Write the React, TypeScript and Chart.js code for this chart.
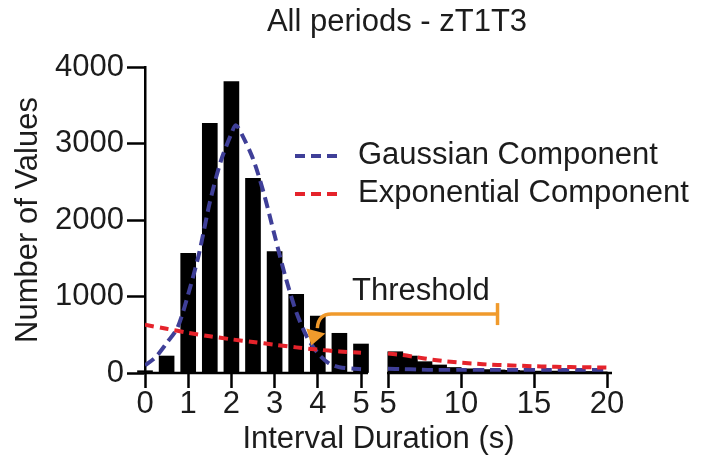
import React, { useEffect, useRef } from 'react';
import { Chart, registerables } from 'chart.js';

Chart.register(...registerables);

// ---------- text ----------
const TITLE = 'All periods - zT1T3';
const X_TITLE = 'Interval Duration (s)';
const Y_TITLE = 'Number of Values';
const LEGEND_LABELS = ['Gaussian Component', 'Exponential Component'];
const THRESHOLD_LABEL = 'Threshold';

// ---------- data: histogram (left part: 0.5 s bins, right part: 1 s bins) ----------
const LEFT_BIN_CENTERS = [0, 0.5, 1, 1.5, 2, 2.5, 3, 3.5, 4, 4.5, 5];
const LEFT_COUNTS = [30, 222, 1565, 3264, 3808, 2545, 1586, 1028, 745, 519, 379];
const RIGHT_BIN_CENTERS = [5.5, 6.5, 7.5, 8.5, 9.5, 10.5, 11.5, 12.5, 13.5, 14.5, 15.5, 16.5, 17.5, 18.5, 19.5];
const RIGHT_COUNTS = [278, 222, 148, 105, 72, 55, 45, 40, 35, 30, 25, 25, 20, 20, 15];

// ---------- data: fitted components ----------
const GAUSS_LEFT_X = [0, 0.25, 0.5, 0.75, 1, 1.25, 1.5, 1.75, 2, 2.1, 2.25, 2.5, 2.75, 3, 3.25, 3.5, 3.75, 4, 4.25, 4.5, 5];
const GAUSS_LEFT_Y = [100, 210, 390, 590, 1030, 1560, 2230, 2760, 3130, 3240, 3110, 2800, 2350, 1800, 1260, 800, 470, 260, 130, 75, 50];
const GAUSS_RIGHT_X = [5, 6, 7, 8, 10, 12, 14, 16, 18, 20];
const GAUSS_RIGHT_Y = [55, 50, 45, 40, 40, 40, 40, 40, 40, 40];
const EXP_LEFT_X = [0, 0.5, 1, 1.5, 2, 2.5, 3, 3.5, 4, 4.5, 5];
const EXP_LEFT_Y = [630, 578, 525, 480, 440, 405, 370, 335, 305, 282, 265];
const EXP_RIGHT_X = [5, 6, 7, 8, 9, 10, 11, 12, 13, 14, 15, 16, 17, 18, 19, 20];
const EXP_RIGHT_Y = [255, 235, 205, 175, 152, 135, 122, 110, 102, 95, 88, 83, 79, 76, 74, 72];

// ---------- ticks ----------
const Y_TICKS = [0, 1000, 2000, 3000, 4000];
const X_TICKS_LEFT = [0, 1, 2, 3, 4, 5];
const X_TICKS_RIGHT = [5, 10, 15, 20];

// ---------- threshold annotation (data units) ----------
const THRESHOLD_TIP_X = 3.85;
const THRESHOLD_TIP_Y = 360;
const THRESHOLD_LINE_Y = 770;
const THRESHOLD_END_X = 12.5;

// ---------- axis break geometry ----------
const BREAK_AT = 5;
const BREAK_GAP = 0.625;
const RIGHT_SCALE = 0.338;
const X_AXIS_MAX = 10.81;
const toAxisL = (x: number) => x;
const toAxisR = (x: number) => BREAK_AT + BREAK_GAP + (x - BREAK_AT) * RIGHT_SCALE;

const X_TICK_POS = [...X_TICKS_LEFT.map(toAxisL), ...X_TICKS_RIGHT.map(toAxisR)];
const X_TICK_LABELS = [...X_TICKS_LEFT, ...X_TICKS_RIGHT].map(String);

const FONT = "'Liberation Sans', Arial, Helvetica, sans-serif";
const TEXT = '#1c1c1c';
const BLUE = '#3f3f98';
const RED = '#e5232b';
const ORANGE = '#f09a2c';

const pts = (xs: number[], ys: number[], f: (x: number) => number) => xs.map((x, i) => ({ x: f(x), y: ys[i] }));

const overlayPlugin = {
  id: 'overlay',
  afterDatasetsDraw(chart: any) {
    const { ctx, chartArea, scales } = chart;
    const xs = scales.x;
    const ys = scales.y;
    ctx.save();
    // broken x axis line
    ctx.strokeStyle = '#000';
    ctx.lineWidth = 2.5;
    ctx.beginPath();
    ctx.moveTo(chartArea.left - 1, chartArea.bottom);
    ctx.lineTo(xs.getPixelForValue(toAxisL(BREAK_AT)) + 7, chartArea.bottom);
    ctx.moveTo(xs.getPixelForValue(toAxisR(BREAK_AT)) - 1, chartArea.bottom);
    ctx.lineTo(chartArea.right, chartArea.bottom);
    ctx.stroke();

    // title
    ctx.fillStyle = TEXT;
    ctx.font = `31px ${FONT}`;
    ctx.textAlign = 'center';
    ctx.textBaseline = 'middle';
    ctx.fillText(TITLE, 397, 22);

    // legend
    const legendRows = [
      { color: BLUE, y: 156 },
      { color: RED, y: 194 },
    ];
    legendRows.forEach((r, i) => {
      ctx.strokeStyle = r.color;
      ctx.lineWidth = 4;
      ctx.setLineDash([10, 6]);
      ctx.beginPath();
      ctx.moveTo(295, r.y);
      ctx.lineTo(343, r.y);
      ctx.stroke();
      ctx.setLineDash([]);
      ctx.fillStyle = TEXT;
      ctx.textAlign = 'left';
      ctx.textBaseline = 'middle';
      ctx.fillText(LEGEND_LABELS[i], 358, r.y - 1);
    });

    // threshold annotation
    const tipX = xs.getPixelForValue(toAxisL(THRESHOLD_TIP_X));
    const tipY = ys.getPixelForValue(THRESHOLD_TIP_Y);
    const lineY = ys.getPixelForValue(THRESHOLD_LINE_Y);
    const endX = xs.getPixelForValue(toAxisR(THRESHOLD_END_X));
    ctx.strokeStyle = ORANGE;
    ctx.fillStyle = ORANGE;
    ctx.lineWidth = 3.5;
    ctx.beginPath();
    ctx.moveTo(endX, lineY);
    ctx.lineTo(tipX + 20, lineY);
    ctx.quadraticCurveTo(tipX + 7, lineY, tipX + 6, lineY + 14);
    ctx.stroke();
    ctx.beginPath();
    ctx.moveTo(endX, lineY - 11);
    ctx.lineTo(endX, lineY + 11);
    ctx.stroke();
    ctx.beginPath();
    ctx.moveTo(tipX - 5, tipY - 17);
    ctx.lineTo(tipX + 14, tipY - 12);
    ctx.lineTo(tipX, tipY);
    ctx.closePath();
    ctx.fill();

    ctx.fillStyle = TEXT;
    ctx.textAlign = 'left';
    ctx.textBaseline = 'middle';
    ctx.fillText(THRESHOLD_LABEL, 352, lineY - 23);
    ctx.restore();
  },
};

export default function App() {
  const ref = useRef<HTMLCanvasElement | null>(null);
  useEffect(() => {
    if (!ref.current) return;
    const lineCommon = {
      type: 'line' as const,
      borderWidth: 4,
      pointRadius: 0,
      fill: false,
      tension: 0.3,
      order: 0,
    };
    const chart = new Chart(ref.current, {
      type: 'bar',
      data: {
        datasets: [
          {
            type: 'bar',
            data: pts(LEFT_BIN_CENTERS, LEFT_COUNTS, toAxisL),
            backgroundColor: '#000',
            barThickness: 15,
            grouped: false,
            clip: false,
            order: 2,
          } as any,
          {
            type: 'bar',
            data: pts(RIGHT_BIN_CENTERS, RIGHT_COUNTS, toAxisR),
            backgroundColor: '#000',
            barThickness: 15,
            grouped: false,
            order: 2,
          } as any,
          { ...lineCommon, data: pts(EXP_LEFT_X, EXP_LEFT_Y, toAxisL), borderColor: RED, borderDash: [9, 6] } as any,
          { ...lineCommon, data: pts(EXP_RIGHT_X, EXP_RIGHT_Y, toAxisR), borderColor: RED, borderDash: [9, 6] } as any,
          { ...lineCommon, data: pts(GAUSS_LEFT_X, GAUSS_LEFT_Y, toAxisL), borderColor: BLUE, borderDash: [11, 6] } as any,
          { ...lineCommon, data: pts(GAUSS_RIGHT_X, GAUSS_RIGHT_Y, toAxisR), borderColor: BLUE, borderDash: [11, 6] } as any,
        ],
      },
      options: {
        animation: false,
        responsive: false,
        devicePixelRatio: 1,
        layout: { padding: { left: 0, right: 89, top: 67, bottom: 0 } },
        plugins: { legend: { display: false }, tooltip: { enabled: false }, title: { display: false } },
        scales: {
          x: {
            type: 'linear',
            offset: false,
            min: 0,
            max: X_AXIS_MAX,
            afterBuildTicks: (s: any) => {
              s.ticks = X_TICK_POS.map((v) => ({ value: v }));
            },
            afterFit: (s: any) => {
              s.height = 88;
            },
            ticks: {
              autoSkip: false,
              maxRotation: 0,
              padding: 1,
              color: TEXT,
              font: { family: FONT, size: 31, lineHeight: 1 },
              callback: (_v: any, i: number) => X_TICK_LABELS[i],
            },
            grid: { display: true, offset: false, drawOnChartArea: false, drawTicks: true, tickLength: 15, tickColor: '#000', tickWidth: 2.5 },
            border: { display: false },
            title: {
              display: true,
              text: X_TITLE,
              color: TEXT,
              font: { family: FONT, size: 31, lineHeight: 1 },
              padding: { top: 0, bottom: 6 },
            },
          },
          y: {
            type: 'linear',
            min: 0,
            max: 4000,
            afterBuildTicks: (s: any) => {
              s.ticks = Y_TICKS.map((v) => ({ value: v }));
            },
            afterFit: (s: any) => {
              s.width = 145;
            },
            ticks: {
              padding: 3,
              color: TEXT,
              font: { family: FONT, size: 31, lineHeight: 1 },
              callback: (v: any) => String(v),
            },
            grid: { display: true, drawOnChartArea: false, drawTicks: true, tickLength: 18, tickColor: '#000', tickWidth: 2.5 },
            border: { display: true, color: '#000', width: 2.5 },
            title: {
              display: true,
              text: Y_TITLE,
              color: TEXT,
              font: { family: FONT, size: 31, lineHeight: 1 },
              padding: { top: 13, bottom: 0 },
            },
          },
        },
      } as any,
      plugins: [overlayPlugin],
    });
    return () => chart.destroy();
  }, []);
  return (
    <div style={{ position: 'absolute', left: 0, top: 0, width: 701, height: 461, background: '#fff' }}>
      <canvas ref={ref} width={701} height={461} />
    </div>
  );
}
